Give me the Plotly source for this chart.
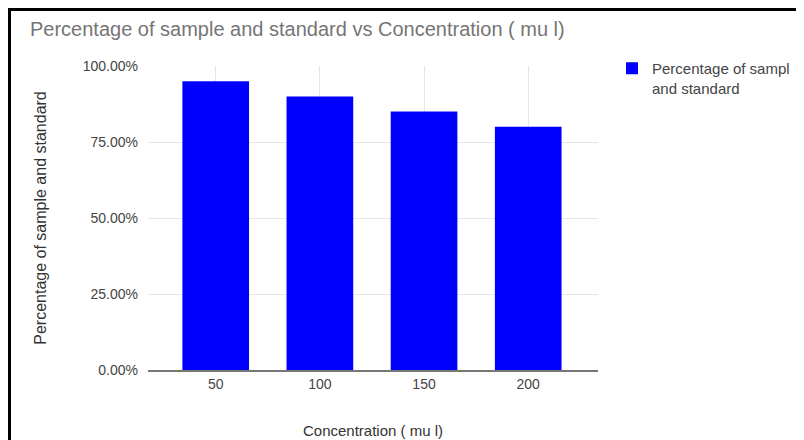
import plotly.graph_objects as go

categories = ["50", "100", "150", "200"]
values = [0.95, 0.90, 0.85, 0.80]
y_ticks = [0, 0.25, 0.5, 0.75, 1.0]
series_name = "Percentage of sampl<br>and standard"

# The page body adds an 8px offset; layout below is in figure pixels.
OFF = 8
W, H = 804, 440
L, T = 148 - OFF, 66 - OFF
pw, ph = 450, 304
R, B = W - L - pw, H - T - ph

def px_x(x):
    return (x - OFF - L) / pw

def px_y(y):
    return (T + ph - (y - OFF)) / ph

fig = go.Figure()
fig.add_trace(go.Bar(
    x=categories, y=values, name=series_name,
    marker=dict(color="#0000ff", line=dict(width=0)),
))

font = "Liberation Sans, Arial, sans-serif"
fig.update_layout(
    width=W, height=H,
    margin=dict(l=L, r=R, t=T, b=B, autoexpand=False),
    paper_bgcolor="white", plot_bgcolor="white",
    font=dict(family=font, color="#444444", size=14),
    bargap=0.36,
    showlegend=True,
    title=dict(
        text="Percentage of sample and standard vs Concentration ( mu l)",
        x=(30 - OFF) / W, xref="container", xanchor="left",
        y=1 - (29 - OFF) / H, yref="container", yanchor="middle",
        font=dict(family=font, size=20, color="#757575"),
    ),
    legend=dict(
        x=px_x(612), y=px_y(52), xanchor="left", yanchor="top",
        valign="top",
        font=dict(family=font, size=15, color="#444444"),
        itemwidth=30, tracegroupgap=0,
        bgcolor="rgba(0,0,0,0)",
    ),
    xaxis=dict(
        type="category",
        range=[-0.65, 3.67],
        showgrid=True, gridcolor="#e6e6e6", gridwidth=1,
        showline=True, linecolor="#777777", linewidth=2,
        ticks="", ticklabelstandoff=0,
        tickfont=dict(size=14, color="#444444"),
        title=dict(text="Concentration ( mu l)", standoff=35,
                   font=dict(size=15, color="#333333")),
    ),
    yaxis=dict(
        range=[0, 1.0],
        tickvals=y_ticks, tickformat=".2%",
        showgrid=True, gridcolor="#e6e6e6", gridwidth=1,
        zeroline=False, showline=False,
        ticks="", ticklabelstandoff=9,
        tickfont=dict(size=14, color="#444444"),
        title=dict(text="Percentage of sample and standard", standoff=32,
                   font=dict(size=16, color="#333333")),
    ),
    shapes=[
        dict(type="line", xref="paper", yref="paper",
             x0=px_x(7.5), x1=px_x(W + 20), y0=px_y(9.5), y1=px_y(9.5),
             line=dict(color="black", width=3)),
        dict(type="line", xref="paper", yref="paper",
             x0=px_x(9.5), x1=px_x(9.5), y0=px_y(8), y1=px_y(H + 20),
             line=dict(color="black", width=3)),
    ],
)

fig.write_html("out.html")
